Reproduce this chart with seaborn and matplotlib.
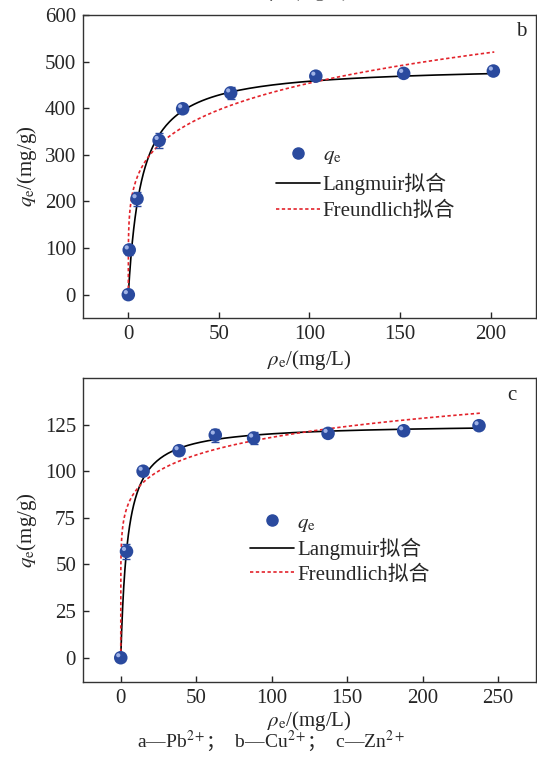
import numpy as np
import pandas as pd
import matplotlib
matplotlib.use("Agg")
import matplotlib.pyplot as plt
import matplotlib.transforms as mtransforms
from matplotlib.lines import Line2D
import seaborn as sns

# ---- Cu2+ isotherm (panel b) ----
cu_ce = [0.0, 0.5, 4.8, 17.0, 30.0, 56.5, 103.5, 152.0, 201.5]
cu_qe = [0.0, 96.0, 206.0, 331.0, 399.0, 433.0, 469.0, 475.0, 480.0]
cu_err = [4.0, 10.0, 15.0, 17.0, 7.0, 13.0, 5.0, 5.0, 5.0]
cu_langmuir = {"qm": 492.0, "KL": 0.135}
cu_freundlich = {"KF": 185.0, "inv_n": 0.195}
cu_cmax = 202.0

# ---- Zn2+ isotherm (panel c) ----
zn_ce = [0.0, 3.8, 14.8, 38.6, 62.6, 88.0, 137.3, 187.4, 237.3]
zn_qe = [0.0, 57.0, 100.0, 111.0, 119.4, 117.8, 120.3, 121.7, 124.4]
zn_err = [1.0, 4.0, 1.5, 2.5, 3.5, 3.0, 1.2, 1.5, 1.2]
zn_langmuir = {"qm": 125.5, "KL": 0.22}
zn_freundlich = {"KF": 68.0, "inv_n": 0.12}
zn_cmax = 238.0

legend_labels = [r"$q_{\mathrm{e}}$", "Langmuir拟合", "Freundlich拟合"]
# caption pieces: ion labels (with mathtext superscripts) and CJK separators
caption_parts = ["a—Pb$^{2+}$", "；", "  b—Cu$^{2+}$", "；", "  c—Zn$^{2+}$"]

sns.set_theme(style="ticks")
FAMILY = ["Liberation Serif", "DejaVu Serif", "Noto Sans CJK SC"]
plt.rcParams["font.family"] = FAMILY
plt.rcParams["mathtext.fontset"] = "stix"
plt.rcParams["axes.unicode_minus"] = False

MARK = "#2a4a9e"
HIGHLIGHT = "#9fb2e6"
RED = "#e3232b"
DOTTED = (0, (2.0, 1.5))

fig = plt.figure(figsize=(5.37, 7.57), dpi=100)
ax_b = fig.add_axes([0.1546, 0.580, 0.8434, 0.400])
ax_c = fig.add_axes([0.1546, 0.0991, 0.8434, 0.4016])


def fit_grid(cmax):
    return np.concatenate([[0.0], np.geomspace(1e-4, cmax, 500)])


def draw_panel(ax, ce, qe, err, lang, freu, cmax):
    c = fit_grid(cmax)
    q_l = lang["qm"] * lang["KL"] * c / (1 + lang["KL"] * c)
    q_f = freu["KF"] * np.power(c, freu["inv_n"])
    fits = pd.DataFrame({"c": c, "lang": q_l, "freu": q_f})

    sns.lineplot(data=fits, x="c", y="lang", ax=ax, color="black", lw=1.2,
                 sort=False, zorder=3)
    sns.lineplot(data=fits, x="c", y="freu", ax=ax, color=RED, lw=1.2,
                 sort=False, zorder=3, dashes=False, linestyle=DOTTED)
    ax.errorbar(ce, qe, yerr=err, fmt="none", ecolor=MARK, elinewidth=1.0,
                capsize=3, capthick=1.0, zorder=4)
    pts = pd.DataFrame({"c": ce, "q": qe})
    sns.scatterplot(data=pts, x="c", y="q", ax=ax, color=MARK, s=95,
                    edgecolor="none", zorder=5)
    # small specular spot to give the markers a shaded look
    shine = mtransforms.offset_copy(ax.transData, fig=fig, x=-1.8, y=1.8,
                                    units="points")
    ax.scatter(ce, qe, s=9, color=HIGHLIGHT, edgecolor="none", zorder=6,
               transform=shine)

    ax.set_xlabel("")
    ax.set_ylabel("")
    ax.tick_params(direction="in", length=4, width=1, labelsize=15,
                   top=False, right=False, pad=5)
    for s in ax.spines.values():
        s.set_visible(True)
        s.set_linewidth(1.0)
        s.set_color("#333333")

    handles = [
        Line2D([], [], marker="o", color=MARK, markersize=8, linestyle="none"),
        Line2D([], [], color="black", lw=1.2),
        Line2D([], [], color=RED, lw=1.2, linestyle=DOTTED),
    ]
    return handles


h = draw_panel(ax_b, cu_ce, cu_qe, cu_err, cu_langmuir, cu_freundlich, cu_cmax)
ax_b.set_xlim(-25, 225)
ax_b.set_ylim(-50, 600)
ax_b.set_xticks([0, 50, 100, 150, 200])
ax_b.set_yticks([0, 100, 200, 300, 400, 500, 600])
ax_b.set_ylabel(r"$q_{\mathrm{e}}$/(mg/g)", fontsize=15, labelpad=4)
ax_b.set_xlabel(r"$\rho_{\mathrm{e}}$/(mg/L)", fontsize=15, labelpad=3)
ax_b.text(0.968, 0.945, "b", transform=ax_b.transAxes, fontsize=15,
          ha="center", va="center")
ax_b.legend(h, legend_labels, loc="upper left", bbox_to_anchor=(0.426, 0.57),
            frameon=False, fontsize=15, handlelength=2.1, handletextpad=0.15,
            labelspacing=0.32, borderpad=0, borderaxespad=0)

h = draw_panel(ax_c, zn_ce, zn_qe, zn_err, zn_langmuir, zn_freundlich, zn_cmax)
ax_c.set_xlim(-25, 275)
ax_c.set_ylim(-13, 150)
ax_c.set_xticks([0, 50, 100, 150, 200, 250])
ax_c.set_yticks([0, 25, 50, 75, 100, 125])
ax_c.set_ylabel(r"$q_{\mathrm{e}}$(mg/g)", fontsize=15, labelpad=4)
ax_c.set_xlabel(r"$\rho_{\mathrm{e}}$/(mg/L)", fontsize=15, labelpad=1)
ax_c.text(0.948, 0.943, "c", transform=ax_c.transAxes, fontsize=15,
          ha="center", va="center")
ax_c.legend(h, legend_labels, loc="upper left", bbox_to_anchor=(0.369, 0.556),
            frameon=False, fontsize=15, handlelength=2.1, handletextpad=0.15,
            labelspacing=0.22, borderpad=0, borderaxespad=0)

# caption line under the figure: lay the pieces out one after another
renderer = fig.canvas.get_renderer()
cap_y = 0.012
pieces = []
x_px = 0.0
for part in caption_parts:
    t = fig.text(0, cap_y, part, fontsize=14, ha="left", va="baseline",
                 family=FAMILY)
    w = t.get_window_extent(renderer).width
    pieces.append((t, x_px))
    x_px += w
fig_w = fig.bbox.width
start = 0.505 * fig_w - x_px / 2
for t, off in pieces:
    t.set_x((start + off) / fig_w)

# axis title of the panel above, mostly outside the canvas
fig.text(0.577, 1.004, r"$\rho_{\mathrm{e}}$/(mg/L)", fontsize=14,
         ha="center", va="baseline", color="#555555")

fig.savefig("out.png", dpi=100)
